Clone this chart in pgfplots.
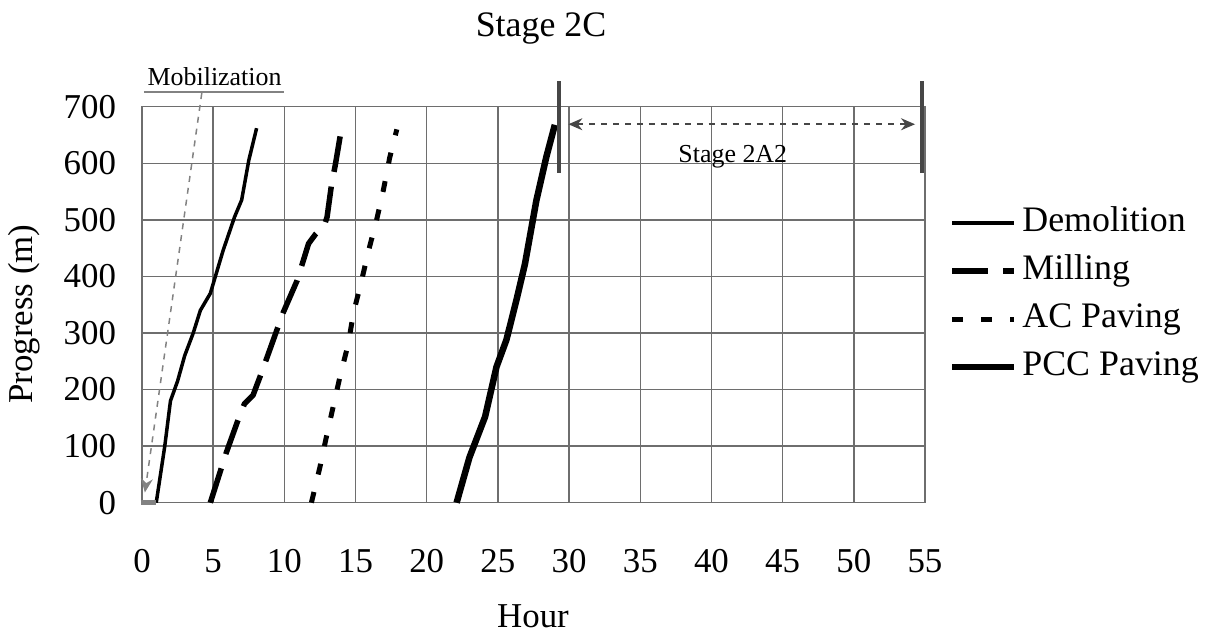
\documentclass[border=0pt]{standalone}
\usepackage{fontspec}
\setmainfont{Liberation Serif}
\usepackage{pgfplots}
\pgfplotsset{compat=1.18}
\usetikzlibrary{arrows.meta}

\definecolor{gridgray}{RGB}{110,110,110}
\definecolor{annogray}{RGB}{70,70,70}
\definecolor{mobgray}{RGB}{130,130,130}

\begin{document}
\begin{tikzpicture}
\useasboundingbox (-71bp,-67.65bp) rectangle (533bp,251.35bp);

\begin{axis}[
    at={(0,0)}, anchor=south west,
    scale only axis,
    width=391.5bp, height=198bp,
    xmin=0, xmax=55,
    ymin=0, ymax=700,
    xtick={0,5,...,55},
    ytick={0,100,...,700},
    grid=major,
    major grid style={line width=0.7bp, color=gridgray},
    axis line style={line width=0.7bp, color=gridgray},
    major tick length=0pt,
    clip=false,
    /pgf/number format/assume math mode=true,
    tick label style={font=\fontsize{17.5}{20}\selectfont},
    xticklabel style={anchor=base, yshift=-35bp},
    yticklabel style={xshift=-9.5bp},
    legend style={
        at={(1.030,0.749)}, anchor=north west,
        draw=none, fill=none, inner sep=0pt,
        font=\fontsize{18}{20}\selectfont,
        nodes={inner sep=0pt, text height=12.5bp, text depth=4bp},
        row sep=7.5bp,
        /tikz/every odd column/.append style={column sep=2.5bp},
    },
    legend cell align=left,
    legend image code/.code={\draw[#1] (0bp,0bp) -- (31bp,0bp);},
]

% Demolition
\addplot[black, line width=1.75bp] coordinates {
    (1.0,0) (1.3,50) (1.6,100) (2.0,180) (2.5,215) (3.0,260) (3.6,300)
    (4.1,340) (4.8,370) (5.7,446) (6.5,505) (7.0,535) (7.5,605) (8.05,662)
};
\addlegendentry{Demolition}

% Milling
\addplot[black, line width=2.75bp, dash pattern=on 18bp off 7.5bp] coordinates {
    (4.8,0) (5.9,87) (6.8,150) (7.2,175) (7.8,190) (8.4,230) (9.9,335)
    (10.9,393) (11.7,458) (12.2,475) (12.8,490) (13.0,505) (13.3,560)
    (13.6,600) (14.0,660)
};
\addlegendentry{Milling}

% AC Paving
\addplot[black, line width=2.5bp, dash pattern=on 5.5bp off 9bp] coordinates {
    (11.9,0) (12.5,63) (13.0,122) (13.9,222) (14.5,282) (14.85,335)
    (15.4,390) (15.9,444) (16.5,502) (16.95,552) (17.4,610) (17.9,660)
};
\addlegendentry{AC Paving}

% PCC Paving
\addplot[black, line width=3.25bp] coordinates {
    (22.1,0) (23.0,80) (24.1,152) (24.9,240) (25.6,288) (26.3,358)
    (26.9,422) (27.7,534) (28.4,611) (29.0,668)
};
\addlegendentry{PCC Paving}

% Mobilization
\addplot[mobgray, line width=2.5bp, forget plot] coordinates {(-0.1,0) (1.0,0)};
\addplot[mobgray, line width=0.75bp, dashed, -{Stealth[length=7bp,width=6bp]}, forget plot]
    coordinates {(4.2,724) (0.2,18)};
\addplot[mobgray, line width=1.2bp, forget plot] coordinates {(0.14,726) (10.0,726)};
\node[anchor=base, font=\fontsize{13}{15}\selectfont, inner sep=0pt]
    at (axis cs:5.1,738) {Mobilization};

% Stage 2A2
\addplot[annogray, line width=2bp, forget plot] coordinates {(29.3,583) (29.3,745)};
\addplot[annogray, line width=2bp, forget plot] coordinates {(54.8,583) (54.8,745)};
\addplot[annogray, line width=0.8bp, dashed,
    {Stealth[length=7bp,width=6bp]}-{Stealth[length=7bp,width=6bp]}, forget plot]
    coordinates {(29.95,669) (54.3,669)};
\node[anchor=base, font=\fontsize{13}{15}\selectfont, inner sep=0pt]
    at (axis cs:41.5,601) {Stage 2A2};

\end{axis}

\node[anchor=base, inner sep=0pt, font=\fontsize{18}{20}\selectfont] at (199.5bp,232.85bp) {Stage 2C};
\node[anchor=base, inner sep=0pt, font=\fontsize{17.5}{20}\selectfont] at (195.5bp,-62.5bp) {Hour};
\node[anchor=base, inner sep=0pt, font=\fontsize{17.5}{20}\selectfont, rotate=90] at (-54.5bp,94.35bp) {Progress (m)};
\end{tikzpicture}
\end{document}
